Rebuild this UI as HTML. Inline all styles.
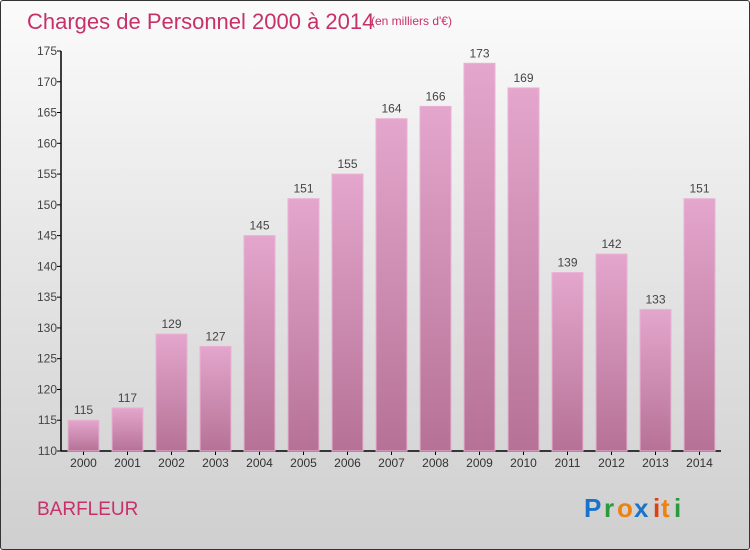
<!DOCTYPE html>
<html><head><meta charset="utf-8"><style>
body{margin:0;}
#wrap{position:relative;width:750px;height:550px;box-sizing:border-box;border:1px solid #333;border-radius:3px;overflow:hidden;background:linear-gradient(#fbfbfb 0%,#e6e6e6 45%,#cfcfcf 100%);font-family:"Liberation Sans",sans-serif;}
</style></head><body>
<div id="wrap">
<svg width="750" height="550" style="position:absolute;left:0;top:0">
<defs>
<linearGradient id="bg" x1="0" y1="0" x2="0" y2="1"><stop offset="0" stop-color="#e4a6cd"/><stop offset="1" stop-color="#b67296"/></linearGradient>
</defs>
<text x="26" y="28" font-size="22" fill="#c8306a">Charges de Personnel 2000 à 2014</text>
<text x="370" y="24" font-size="12" fill="#c8306a">(en milliers d'€)</text>
<g id="axes"></g>
<g id="bars"></g>
<text x="36" y="514" font-size="19" fill="#c8306a">BARFLEUR</text>
<g font-size="26" font-weight="bold">
<text x="583" y="516" fill="#1a73c8">P</text><text x="603" y="516" fill="#2a9a3a">r</text><text x="616" y="516" fill="#f08010">o</text><text x="633" y="516" fill="#1a73c8">x</text><text x="652" y="516" fill="#e04010">i</text><text x="660" y="516" fill="#f08010">t</text><text x="673" y="516" fill="#2a9a3a">i</text>
</g>
</svg>
</div>
<script>
const years=["2000","2001","2002","2003","2004","2005","2006","2007","2008","2009","2010","2011","2012","2013","2014"];
const values=[115,117,129,127,145,151,155,164,166,173,169,139,142,133,151];
const ticks=[110,115,120,125,130,135,140,145,150,155,160,165,170,175];
const NS="http://www.w3.org/2000/svg";
const x0=60,yMin=110,yMax=175,yTop=50,yBot=450;
function y(v){return yBot-(v-yMin)/(yMax-yMin)*(yBot-yTop);}
function xc(i){return 82.5+i*44;}
function mk(t,a,p,txt){const e=document.createElementNS(NS,t);for(const k in a)e.setAttribute(k,a[k]);if(txt!==undefined)e.textContent=txt;p.appendChild(e);return e;}
const ax=document.getElementById('axes'),bg=document.getElementById('bars');
let l=mk('line',{x1:x0,y1:yTop,x2:x0,y2:yBot,stroke:'#000','stroke-width':1.5},ax);


l=mk('line',{x1:x0,y1:yBot,x2:720,y2:yBot,stroke:'#000','stroke-width':1.5},ax);


ticks.forEach(t=>{
 mk('line',{x1:x0-4,y1:y(t),x2:x0,y2:y(t),stroke:'#000'},ax);
 const tx=mk('text',{x:x0-4,y:y(t)+4,'font-size':12,fill:'#444','text-anchor':'end'},ax,t);
 
 
});
years.forEach((yr,i)=>{
 mk('line',{x1:xc(i),y1:yBot,x2:xc(i),y2:yBot+4,stroke:'#000'},ax);
 const tx=mk('text',{x:xc(i),y:yBot+16,'font-size':12,fill:'#333','text-anchor':'middle'},ax,yr);
 
 
 const v=values[i];
 const r=mk('rect',{x:xc(i)-15.5,y:y(v),width:31,height:yBot-y(v),fill:'url(#bg)',stroke:'#eab2d4','stroke-width':1},bg);
 
 
 const lb=mk('text',{x:xc(i),y:y(v)-6,'font-size':12,fill:'#444','text-anchor':'middle'},bg,v);
 
 
});
</script>
</body></html>
